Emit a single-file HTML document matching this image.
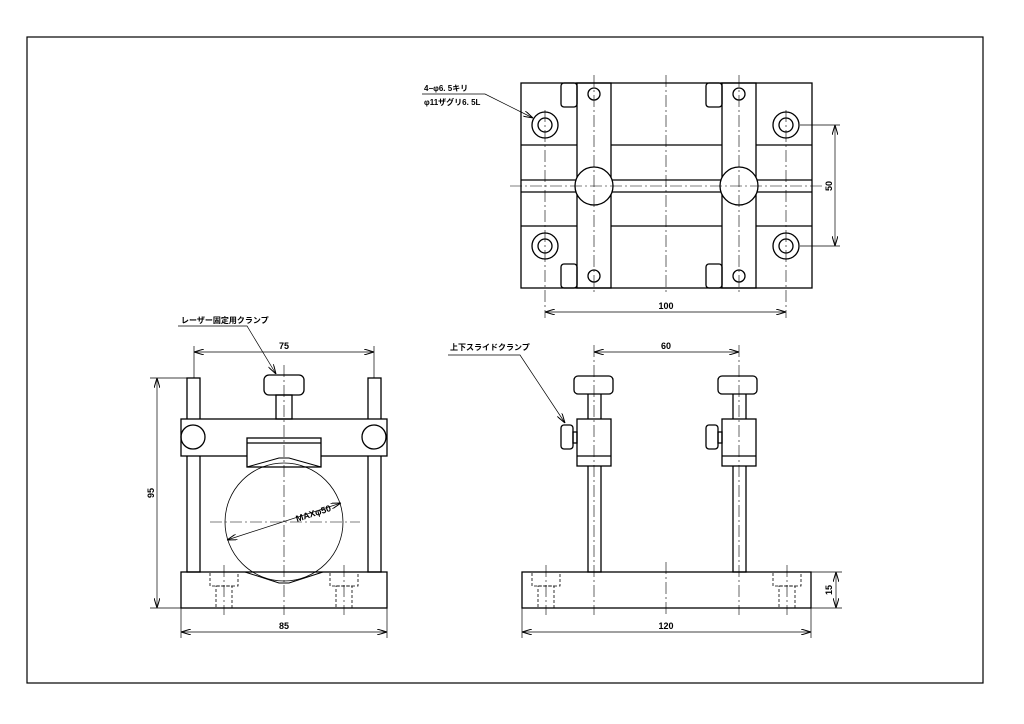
<!DOCTYPE html>
<html><head><meta charset="utf-8"><style>
html,body{margin:0;padding:0;background:#fff}
svg{display:block}
text{font-family:"Liberation Sans","Noto Sans CJK JP",sans-serif;font-weight:bold;fill:#000}
</style></head><body>
<svg width="1024" height="724" viewBox="0 0 1024 724" xmlns="http://www.w3.org/2000/svg">
<defs>
<marker id="a" viewBox="0 0 10 6" refX="10" refY="3" markerWidth="10" markerHeight="6" orient="auto-start-reverse" markerUnits="userSpaceOnUse"><path d="M0,0L10,3L0,6" fill="none" stroke="#000" stroke-width="1"/></marker>
</defs>
<rect x="27" y="37" width="956" height="646" fill="none" stroke="#000" stroke-width="1.2"/>
<g fill="none" stroke="#000" stroke-width="1.3">
<!-- TOP VIEW -->
<rect x="521" y="83" width="291" height="205"/>
<rect x="577" y="83" width="34" height="205"/>
<rect x="722" y="83" width="34" height="205"/>
<line x1="521" y1="145" x2="577" y2="145"/><line x1="611" y1="145" x2="722" y2="145"/><line x1="756" y1="145" x2="812" y2="145"/>
<line x1="521" y1="226" x2="577" y2="226"/><line x1="611" y1="226" x2="722" y2="226"/><line x1="756" y1="226" x2="812" y2="226"/>
<line x1="521" y1="180" x2="812" y2="180"/><line x1="521" y1="192" x2="812" y2="192"/>
<circle cx="594" cy="186" r="19" fill="#fff"/><circle cx="739" cy="186" r="19" fill="#fff"/>
<circle cx="594" cy="94" r="6"/><circle cx="739" cy="94" r="6"/><circle cx="594" cy="276" r="6"/><circle cx="739" cy="276" r="6"/>
<circle cx="545" cy="125" r="13"/><circle cx="545" cy="125" r="7"/>
<circle cx="786" cy="125" r="13"/><circle cx="786" cy="125" r="7"/>
<circle cx="545" cy="246" r="13"/><circle cx="545" cy="246" r="7"/>
<circle cx="786" cy="246" r="13"/><circle cx="786" cy="246" r="7"/>
<rect x="561" y="83" width="16" height="24" rx="3"/><rect x="706" y="83" width="16" height="24" rx="3"/>
<rect x="561" y="264" width="16" height="24" rx="3"/><rect x="706" y="264" width="16" height="24" rx="3"/>
<!-- FRONT VIEW -->
<rect x="187" y="378" width="13" height="194"/><rect x="368" y="378" width="13" height="194"/>
<rect x="181" y="419" width="206" height="37" fill="#fff"/>
<circle cx="193" cy="437" r="12"/><circle cx="374" cy="437" r="12"/>
<rect x="247" y="438" width="74" height="29" fill="#fff"/><line x1="247" y1="443" x2="321" y2="443"/>
<rect x="264" y="375" width="40" height="20" rx="5"/><rect x="276" y="395" width="16" height="24"/>
<rect x="181" y="572" width="206" height="36"/>
<rect x="210" y="572" width="28" height="14" stroke-dasharray="3,2" stroke-width="0.8"/>
<rect x="330" y="572" width="28" height="14" stroke-dasharray="3,2" stroke-width="0.8"/>
<rect x="216" y="586" width="16" height="22" stroke-dasharray="3,2" stroke-width="0.8"/>
<rect x="336" y="586" width="16" height="22" stroke-dasharray="3,2" stroke-width="0.8"/>
<path d="M247,467 L279,458 L289,458 L321,467" stroke-width="1"/>
<path d="M245,572 L279,583 L289,583 L323,572" stroke-width="1"/>
<circle cx="284" cy="522" r="59" stroke-width="0.8"/>
<!-- SIDE VIEW -->
<rect x="522" y="572" width="289" height="36"/>
<rect x="588" y="378" width="13" height="194"/><rect x="733" y="378" width="13" height="194"/>
<rect x="574" y="376" width="39" height="18" rx="4" fill="#fff"/><rect x="718" y="376" width="39" height="18" rx="4" fill="#fff"/>
<rect x="577" y="419" width="34" height="47" fill="#fff"/><line x1="577" y1="456" x2="611" y2="456"/>
<rect x="722" y="419" width="34" height="47" fill="#fff"/><line x1="722" y1="456" x2="756" y2="456"/>
<rect x="561" y="425" width="12" height="24" rx="3"/><rect x="573" y="432" width="4" height="11"/>
<rect x="706" y="425" width="12" height="24" rx="3"/><rect x="718" y="432" width="4" height="11"/>
<rect x="532" y="572" width="28" height="14" stroke-dasharray="3,2" stroke-width="0.8"/>
<rect x="773" y="572" width="28" height="14" stroke-dasharray="3,2" stroke-width="0.8"/>
<rect x="538" y="586" width="16" height="22" stroke-dasharray="3,2" stroke-width="0.8"/>
<rect x="779" y="586" width="16" height="22" stroke-dasharray="3,2" stroke-width="0.8"/>
</g>
<!-- center lines -->
<g stroke="#000" stroke-width="0.6" stroke-dasharray="12,3,2,3" fill="none">
<line x1="510" y1="186" x2="825" y2="186"/><line x1="666" y1="75" x2="666" y2="295"/>
<line x1="594" y1="75" x2="594" y2="295"/><line x1="739" y1="75" x2="739" y2="295"/>
<line x1="545" y1="110" x2="545" y2="318"/><line x1="786" y1="110" x2="786" y2="318"/>
<line x1="284" y1="365" x2="284" y2="615"/><line x1="210" y1="522" x2="360" y2="522"/>
<line x1="224" y1="565" x2="224" y2="615"/><line x1="344" y1="565" x2="344" y2="615"/>
<line x1="594" y1="345" x2="594" y2="615"/><line x1="739" y1="345" x2="739" y2="615"/>
<line x1="666" y1="562" x2="666" y2="615"/>
<line x1="546" y1="565" x2="546" y2="615"/><line x1="787" y1="565" x2="787" y2="615"/>
</g>
<!-- dimensions -->
<g stroke="#000" stroke-width="0.7" fill="none">
<line x1="545" y1="312" x2="786" y2="312" marker-start="url(#a)" marker-end="url(#a)"/>
<line x1="800" y1="125" x2="840" y2="125"/><line x1="800" y1="246" x2="840" y2="246"/>
<line x1="835" y1="125" x2="835" y2="246" marker-start="url(#a)" marker-end="url(#a)"/>
<line x1="194" y1="352" x2="374" y2="352" marker-start="url(#a)" marker-end="url(#a)"/>
<line x1="194" y1="346" x2="194" y2="378"/><line x1="374" y1="346" x2="374" y2="378"/>
<line x1="150" y1="378" x2="187" y2="378"/><line x1="150" y1="608" x2="181" y2="608"/>
<line x1="157" y1="378" x2="157" y2="608" marker-start="url(#a)" marker-end="url(#a)"/>
<line x1="181" y1="608" x2="181" y2="638"/><line x1="387" y1="608" x2="387" y2="638"/>
<line x1="181" y1="632" x2="387" y2="632" marker-start="url(#a)" marker-end="url(#a)"/>
<line x1="594" y1="352" x2="739" y2="352" marker-start="url(#a)" marker-end="url(#a)"/>
<line x1="522" y1="608" x2="522" y2="638"/><line x1="811" y1="608" x2="811" y2="638"/>
<line x1="522" y1="632" x2="811" y2="632" marker-start="url(#a)" marker-end="url(#a)"/>
<line x1="811" y1="572" x2="842" y2="572"/><line x1="811" y1="608" x2="842" y2="608"/>
<line x1="836" y1="572" x2="836" y2="608" marker-start="url(#a)" marker-end="url(#a)"/>
<line x1="227" y1="540" x2="341" y2="503" marker-start="url(#a)" marker-end="url(#a)"/>
<polyline points="422,94 485,94 533,118" marker-end="url(#a)"/>
<polyline points="178,326 247,326 276,374" marker-end="url(#a)"/>
<polyline points="448,355 520,355 565,423" marker-end="url(#a)"/>
</g>
<g font-size="9">
<text x="666" y="309" text-anchor="middle">100</text>
<text x="832" y="186" text-anchor="middle" transform="rotate(-90 832 186)">50</text>
<text x="284" y="349" text-anchor="middle">75</text>
<text x="154" y="493" text-anchor="middle" transform="rotate(-90 154 493)">95</text>
<text x="284" y="629" text-anchor="middle">85</text>
<text x="666" y="349" text-anchor="middle">60</text>
<text x="666" y="629" text-anchor="middle">120</text>
<text x="832" y="590" text-anchor="middle" transform="rotate(-90 832 590)">15</text>
<text x="297" y="522" transform="rotate(-18 297 522)">MAXφ50</text>
</g>
<g font-size="8">
<text x="424" y="91">4−φ6. 5キリ</text>
<text x="424" y="105">φ11ザグリ6. 5L</text>
<text x="181" y="323">レーザー固定用クランプ</text>
<text x="450" y="350">上下スライドクランプ</text>
</g>
</svg>
</body></html>
